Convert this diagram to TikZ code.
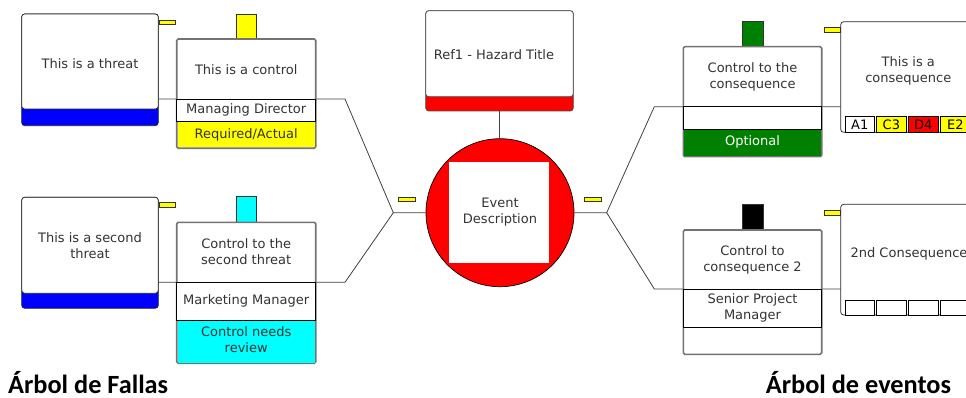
\documentclass[tikz,border=0pt]{standalone}
\usepackage{fontspec}
\setmainfont{DejaVu Sans}
\newfontfamily\titlefont{Carlito}
\definecolor{cY}{RGB}{255,255,0}
\definecolor{cC}{RGB}{0,255,255}
\definecolor{cG}{RGB}{0,128,0}
\definecolor{cR}{RGB}{255,0,0}
\definecolor{cB}{RGB}{0,0,255}
\definecolor{cT}{RGB}{51,51,51}
\begin{document}
\begin{tikzpicture}[x=1pt,y=-1pt,
  lbl/.style={font=\fontsize{13}{16}\selectfont, text=cT, align=center, inner sep=0pt},
  ttl/.style={font=\titlefont\bfseries\fontsize{26.3}{30}\selectfont, text=black, inner sep=0pt, anchor=base west},
  conn/.style={draw=black!75, line width=0.8pt},
  shp/.style={inner sep=0pt, outer sep=0pt, anchor=north west},
  tabbox/.style={draw=black!80, line width=0.6pt},
  frame/.style={draw=black!55, line width=1.6pt, fill=white, rounded corners=1.5pt},
  rowbox/.style={draw=black, line width=0.7pt, fill=white},
  soft/.style={draw=black!85, line width=0.7pt, rounded corners=3pt},
  cell/.style={draw=black, line width=0.6pt}
]
\newcommand\mybox[6]{\node[shp,#6,minimum width={(#4-#2)*1pt},minimum height={(#5-#3)*1pt}] (#1) at (#2,#3) {};}
\clip (0,0) rectangle (966,398);
% threats
\mybox{t1}{21.7}{14}{158.3}{125.7}{soft, fill=cB}
\mybox{t1w}{21.7}{14}{158.3}{109}{soft, fill=white}
\mybox{t2}{21.7}{197.3}{158.3}{308.3}{soft, fill=cB}
\mybox{t2w}{21.7}{197.3}{158.3}{293.3}{soft, fill=white}
\mybox{t1tab}{159}{20}{175.7}{24.3}{tabbox, fill=cY}
\mybox{t2tab}{159}{202.3}{175.7}{207.3}{tabbox, fill=cY}
\node[lbl] (t1t) at (90,63.3) {This is a threat};
\node[lbl] (t2t) at (90,245.8) {This is a second\\threat};
% hazard
\mybox{hz}{425.7}{10.7}{573.3}{111}{soft, draw=black!70, fill=cR}
\mybox{hzw}{425.7}{10.7}{573.3}{96.7}{soft, draw=black!70, fill=white}
\node[lbl] (hzt) at (494,55) {Ref1 - Hazard Title};
% event
\node[circle, draw=black, fill=cR, minimum size=148pt, inner sep=0pt, line width=0.7pt] (ev) at (500,212.7) {};
\node[fill=white, minimum width=100pt, minimum height=101pt, inner sep=0pt] (evb) at (499.3,212.8) {};
\node[lbl] (evt) at (500,212.5) {Event\\Description};
\mybox{evl}{398.3}{197.3}{415}{201.7}{tabbox, fill=cY}
\mybox{evr}{584}{197.3}{601.3}{201.7}{tabbox, fill=cY}
% consequences
\mybox{k1}{840.7}{21.7}{977.3}{132.3}{soft, fill=white}
\mybox{k2}{840.7}{204.3}{977.3}{315}{soft, fill=white}
\mybox{k1tab}{824}{27.3}{840.7}{32.3}{tabbox, fill=cY}
\mybox{k2tab}{824}{210.7}{840.7}{215}{tabbox, fill=cY}
\node[lbl] (k1t) at (908.3,70.8) {This is a\\consequence};
\node[lbl] (k2t) at (909,254) {2nd Consequence};
\mybox{ka}{845.3}{116.7}{874.3}{132.3}{cell, fill=white}
\mybox{kc}{876.7}{116.7}{906}{132.3}{cell, fill=cY}
\mybox{kd}{908.3}{116.7}{938.3}{132.3}{cell, fill=cR}
\mybox{ke}{940.7}{116.7}{970}{132.3}{cell, fill=cY}
\node[lbl, text=black] (kat) at (ka.center) {A1};
\node[lbl, text=black] (kct) at (kc.center) {C3};
\node[lbl, text=black] (kdt) at (kd.center) {D4};
\node[lbl, text=black] (ket) at (ke.center) {E2};
\mybox{kb1}{845.3}{300}{874.3}{315}{cell, fill=white}
\mybox{kb2}{876.7}{300}{906}{315}{cell, fill=white}
\mybox{kb3}{908.3}{300}{938.3}{315}{cell, fill=white}
\mybox{kb4}{940.7}{300}{970}{315}{cell, fill=white}
% connectors
\coordinate (jl) at (393.3,212.7);
\coordinate (jr) at (606.7,212.7);
\coordinate (bl1) at (345,99);
\coordinate (bl2) at (345,282.3);
\coordinate (br1) at (654.3,106.7);
\coordinate (br2) at (654.3,289);
\draw[conn] (t1.east |- bl1) -- (bl1) -- (jl) -- (ev.west);
\draw[conn] (t2.east |- bl2) -- (bl2) -- (jl);
\draw[conn] (ev.east) -- (jr) -- (br1) -- (k1.west |- br1);
\draw[conn] (jr) -- (br2) -- (k2.west |- br2);
\draw[conn] (hz.south) -- (hz.south |- ev.north);
% control 1
\mybox{c1tab}{236}{14}{256.7}{39}{tabbox, fill=cY}
\mybox{c1}{176.7}{39}{315.7}{148.3}{frame}
\fill[cY] (177.5,121.7) rectangle (314.9,147.5);
\mybox{c1r}{176.7}{99}{315.7}{121.7}{rowbox}
\node[lbl] (c1t) at (246.2,69.3) {This is a control};
\node[lbl] (c1o) at (c1r.center) {Managing Director};
\node[lbl] (c1s) at (246.2,134.5) {Required/Actual};
% control 2
\mybox{c2tab}{236}{196.7}{256.7}{222.3}{tabbox, fill=cC}
\mybox{c2}{176.7}{222.3}{315.7}{363.3}{frame}
\fill[cC] (177.5,320) rectangle (314.9,362.5);
\mybox{c2r}{176.7}{282.3}{315.7}{320}{rowbox}
\node[lbl] (c2t) at (246.2,252) {Control to the\\second threat};
\node[lbl] (c2o) at (c2r.center) {Marketing Manager};
\node[lbl] (c2s) at (246.2,339.7) {Control needs\\review};
% control 3
\mybox{c3tab}{742.3}{21}{763.3}{46.7}{tabbox, fill=cG}
\mybox{c3}{683.3}{46.7}{821.7}{156.7}{frame}
\fill[cG] (684.1,129.3) rectangle (820.9,155.9);
\mybox{c3r}{683.3}{106.7}{821.7}{129.3}{rowbox}
\node[lbl] (c3t) at (752.5,77.2) {Control to the\\consequence};
\node[lbl, text=white] (c3s) at (752.5,141.5) {Optional};
% control 4
\mybox{c4tab}{742.3}{204.3}{763.3}{230}{tabbox, fill=black}
\mybox{c4}{683.3}{230}{821.7}{354.3}{frame}
\mybox{c4r}{683.3}{289}{821.7}{327.7}{rowbox}
\node[lbl] (c4t) at (752.5,260.3) {Control to\\consequence 2};
\node[lbl] (c4o) at (c4r.center) {Senior Project\\Manager};
% titles
\node[ttl] (lt) at (8,393) {Árbol de Fallas};
\node[ttl] (rt) at (765.7,393) {Árbol de eventos};
\end{tikzpicture}
\end{document}
